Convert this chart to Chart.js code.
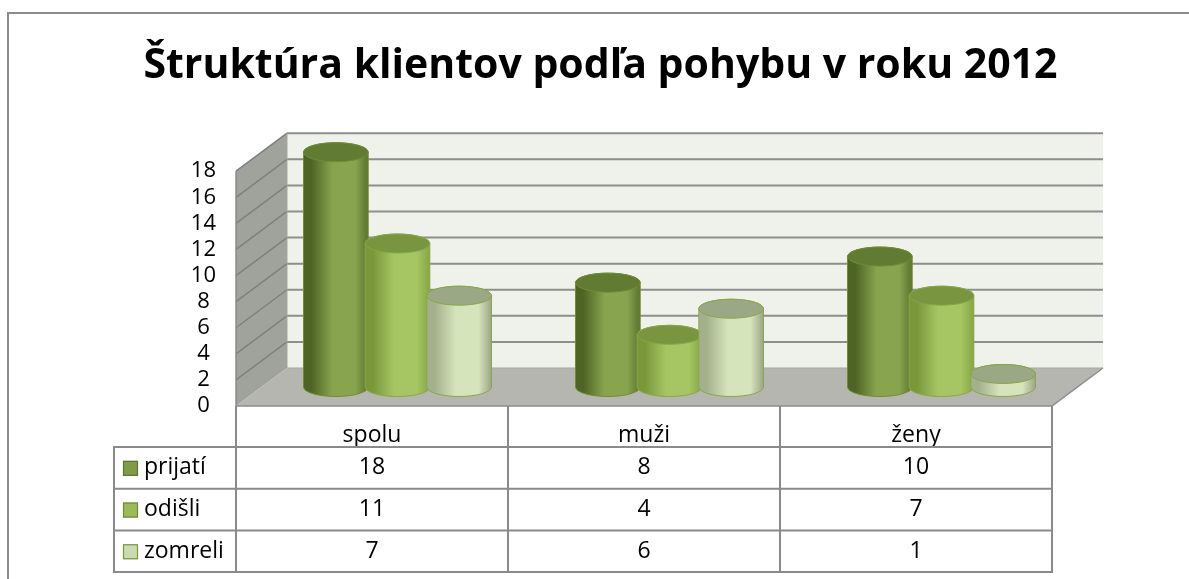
<!DOCTYPE html>
<html><head><meta charset="utf-8">
<script src="https://cdn.jsdelivr.net/npm/chart.js@4.4.1/dist/chart.umd.min.js"></script>
<style>html,body{margin:0;padding:0;background:#fff;overflow:hidden}canvas{display:block}</style>
</head><body>
<canvas id="c" width="1189" height="579"></canvas>
<script>
// ---- data ----
const titleText = 'Štruktúra klientov podľa pohybu v roku 2012';
const categories = ['spolu', 'muži', 'ženy'];
const seriesNames = ['prijatí', 'odišli', 'zomreli'];
const prijati = [18, 8, 10];
const odisli = [11, 4, 7];
const zomreli = [7, 6, 1];
const yTickValues = [0, 2, 4, 6, 8, 10, 12, 14, 16, 18];

// ---- styles ----
const FONT = '"Open Sans", Lato, sans-serif';
const DEPTH = { dx: 51, dy: -38 };
const seriesStyle = [
  { key: '#7F9A48', keyBorder: '#5E7530', dark: '#4E6424', light: '#89A44F', edge: '#5A7330', top: '#627B33', line: '#6F8C35' },
  { key: '#9BBB59', keyBorder: '#71893F', dark: '#7A973A', light: '#A6C664', edge: '#86A546', top: '#7A9540', line: '#86A845' },
  { key: '#CBDAB0', keyBorder: '#7A9640', dark: '#A3B08D', light: '#D6E4BB', edge: '#9AA588', top: '#9AA886', line: '#86A845' }
];
const seriesData = [prijati, odisli, zomreli];

function drawCylinder(ctx, cx, yTop, yBase, w, ry, st) {
  const rx = w / 2, l = cx - rx, r = cx + rx;
  const g = ctx.createLinearGradient(l, 0, r, 0);
  g.addColorStop(0, st.dark);
  g.addColorStop(0.12, st.dark);
  g.addColorStop(0.45, st.light);
  g.addColorStop(0.8, st.light);
  g.addColorStop(1, st.edge);
  ctx.save();
  ctx.beginPath();
  ctx.moveTo(l, yTop);
  ctx.lineTo(l, yBase);
  ctx.ellipse(cx, yBase, rx, ry, 0, Math.PI, 0, true);
  ctx.lineTo(r, yTop);
  ctx.ellipse(cx, yTop, rx, ry, 0, 0, Math.PI, true);
  ctx.closePath();
  ctx.fillStyle = g;
  ctx.fill();
  ctx.lineWidth = 1;
  ctx.strokeStyle = st.line;
  ctx.stroke();
  ctx.beginPath();
  ctx.ellipse(cx, yTop, rx, ry, 0, 0, Math.PI * 2);
  ctx.fillStyle = st.top;
  ctx.fill();
  ctx.strokeStyle = st.line;
  ctx.stroke();
  ctx.restore();
}

const scene3d = {
  id: 'scene3d',
  beforeDatasetsDraw(chart) {
    const { ctx, chartArea: a, scales: { y } } = chart;
    const dx = DEPTH.dx, dy = DEPTH.dy;
    ctx.save();
    ctx.fillStyle = '#EFF2EB';
    ctx.fillRect(a.left + dx, a.top + dy, a.right - a.left, a.bottom - a.top);
    ctx.beginPath();
    ctx.moveTo(a.left, a.bottom); ctx.lineTo(a.left, a.top);
    ctx.lineTo(a.left + dx, a.top + dy); ctx.lineTo(a.left + dx, a.bottom + dy);
    ctx.closePath();
    ctx.fillStyle = '#A0A29C'; ctx.fill();
    ctx.beginPath();
    ctx.moveTo(a.left, a.bottom); ctx.lineTo(a.right, a.bottom);
    ctx.lineTo(a.right + dx, a.bottom + dy); ctx.lineTo(a.left + dx, a.bottom + dy);
    ctx.closePath();
    ctx.fillStyle = '#B4B6AF'; ctx.fill();
    yTickValues.forEach(v => {
      if (v === 0) return;
      const py = y.getPixelForValue(v);
      ctx.strokeStyle = '#8E8E8E'; ctx.lineWidth = 2;
      ctx.beginPath(); ctx.moveTo(a.left + dx, py + dy); ctx.lineTo(a.right + dx, py + dy); ctx.stroke();
      ctx.strokeStyle = '#7F817C'; ctx.lineWidth = 1.5;
      ctx.beginPath(); ctx.moveTo(a.left, py); ctx.lineTo(a.left + dx, py + dy); ctx.stroke();
    });
    ctx.strokeStyle = '#8C8C8C'; ctx.lineWidth = 1.5;
    ctx.beginPath();
    ctx.moveTo(a.left, a.top); ctx.lineTo(a.left, a.bottom);
    ctx.lineTo(a.right, a.bottom); ctx.lineTo(a.right + dx, a.bottom + dy);
    ctx.stroke();
    ctx.strokeStyle = '#A5A7A1'; ctx.lineWidth = 1;
    ctx.beginPath();
    ctx.moveTo(a.left + dx, a.bottom + dy); ctx.lineTo(a.right + dx, a.bottom + dy);
    ctx.moveTo(a.left + dx, a.bottom + dy); ctx.lineTo(a.left + dx, a.top + dy);
    ctx.stroke();
    ctx.restore();
  },
  beforeDatasetDraw() { return false; },
  afterDatasetsDraw(chart) {
    const { ctx } = chart;
    const ox = DEPTH.dx / 2, oy = DEPTH.dy / 2;
    const metas = chart.data.datasets.map((d, i) => chart.getDatasetMeta(i));
    for (let c = 0; c < categories.length; c++) {
      for (let s = 0; s < metas.length; s++) {
        const el = metas[s].data[c];
        drawCylinder(ctx, el.x + ox, el.y + oy, el.base + oy, el.width + 3, 9.5, seriesStyle[s]);
      }
    }
  },
  afterDraw(chart) {
    const { ctx, chartArea: a, scales: { x } } = chart;
    ctx.save();
    ctx.strokeStyle = '#8B8B8B'; ctx.lineWidth = 2;
    ctx.strokeRect(8, 13, 1400, 800);
    const headerTop = a.bottom, headerBot = a.bottom + 41, rowH = 41.7;
    const legendLeft = 114;
    const half = (x.getPixelForValue(1) - x.getPixelForValue(0)) / 2;
    const cols = [a.left];
    categories.forEach((c, i) => cols.push(x.getPixelForValue(i) + half));
    const tableBot = headerBot + rowH * 3;
    ctx.strokeStyle = '#8A8A8A'; ctx.lineWidth = 2;
    ctx.beginPath();
    cols.forEach(cx => { ctx.moveTo(cx, headerTop); ctx.lineTo(cx, tableBot); });
    ctx.moveTo(legendLeft, headerBot); ctx.lineTo(legendLeft, tableBot);
    for (let r = 0; r <= 3; r++) {
      const yy = headerBot + rowH * r;
      ctx.moveTo(legendLeft - 1, yy); ctx.lineTo(cols[cols.length - 1] + 1, yy);
    }
    ctx.stroke();
    ctx.font = '23px ' + FONT;
    ctx.textBaseline = 'middle';
    seriesNames.forEach((n, s) => {
      const cy = headerBot + rowH * s + rowH / 2;
      ctx.fillStyle = seriesStyle[s].key;
      ctx.fillRect(123, cy - 7, 15, 15);
      ctx.strokeStyle = seriesStyle[s].keyBorder; ctx.lineWidth = 1.2;
      ctx.strokeRect(123.5, cy - 6.5, 14, 14);
      ctx.fillStyle = '#000';
      ctx.textAlign = 'left';
      ctx.fillText(n, 144, cy);
      ctx.textAlign = 'center';
      seriesData[s].forEach((v, i) => ctx.fillText(String(v), x.getPixelForValue(i), cy));
    });
    ctx.restore();
  }
};

new Chart(document.getElementById('c'), {
  type: 'bar',
  data: {
    labels: categories,
    datasets: seriesNames.map((n, s) => ({
      label: n,
      data: seriesData[s],
      backgroundColor: seriesStyle[s].key,
      categoryPercentage: 0.68,
      barPercentage: 1.0
    }))
  },
  options: {
    responsive: false,
    animation: false,
    layout: { padding: { left: 12, right: 0, top: 0, bottom: 0 } },
    plugins: {
      legend: { display: false },
      tooltip: { enabled: false },
      title: {
        display: true, text: titleText, color: '#000',
        font: { family: FONT, weight: 'bold', size: 41, lineHeight: 1.2 },
        padding: { top: 42, bottom: 80 }
      }
    },
    scales: {
      x: {
        grid: { display: false }, border: { display: false },
        ticks: { color: '#000', font: { family: FONT, size: 23 }, padding: 8 },
        afterFit(s) { s.height = 579 - 406; }
      },
      y: {
        min: 0, max: 18,
        grid: { display: false }, border: { display: false },
        ticks: { stepSize: 2, autoSkip: false, color: '#000', crossAlign: 'center', padding: 12, font: { family: FONT, size: 22 } },
        afterFit(s) { s.width = 224; }
      },
      yRight: {
        type: 'linear', position: 'right', display: true,
        grid: { display: false }, border: { display: false },
        ticks: { display: false },
        afterFit(s) { s.width = 137; }
      }
    }
  },
  plugins: [scene3d]
});
</script>
</body></html>
